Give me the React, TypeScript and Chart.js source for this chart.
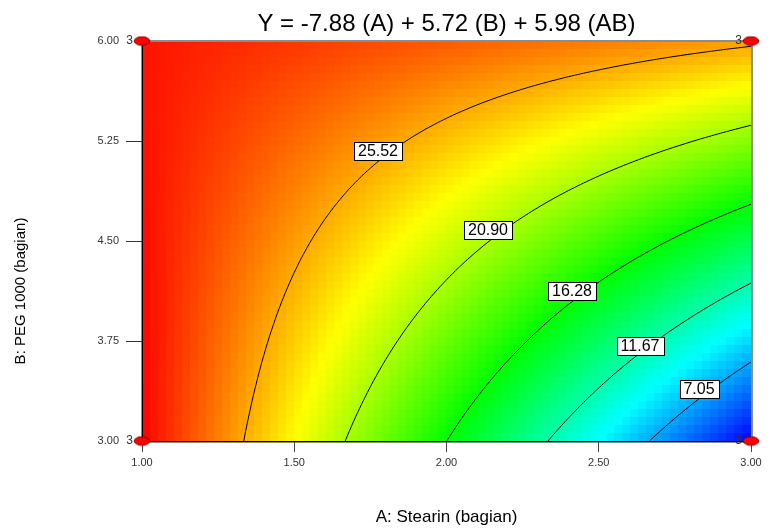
import React, { useEffect, useRef } from 'react';
import { Chart, registerables } from 'chart.js';

Chart.register(...registerables);

// ---------- text ----------
const TITLE = 'Y = -7.88 (A) + 5.72 (B) + 5.98 (AB)';
const X_TITLE = 'A: Stearin (bagian)';
const Y_TITLE = 'B: PEG 1000 (bagian)';

// ---------- fitted model (coded units): Y = b0 + bA*A + bB*B + bAB*A*B ----------
// coefficients from the title; the intercept read from the labelled contour levels
const MODEL_TERMS = ['intercept', 'A', 'B', 'AB'];
const MODEL_COEFS = [22.01, -7.88, 5.72, 5.98];

// ---------- factor ranges and ticks ----------
const A_RANGE = [1.0, 3.0];
const B_RANGE = [3.0, 6.0];
const X_TICKS = [1.0, 1.5, 2.0, 2.5, 3.0];
const Y_TICKS = [3.0, 3.75, 4.5, 5.25, 6.0];

// ---------- contour levels and where their labels sit ----------
const CONTOUR_LEVELS = [25.52, 20.9, 16.28, 11.67, 7.05];
const LABEL_A = [1.775, 2.136, 2.411, 2.637, 2.828];
const LABEL_B = [5.177, 4.579, 4.125, 3.716, 3.39];

// ---------- design points ----------
const DESIGN_A = [1.0, 3.0, 1.0, 3.0];
const DESIGN_B = [3.0, 3.0, 6.0, 6.0];
const DESIGN_REPS = [3, 3, 3, 3];

// ---------- colour ramp (low -> high) ----------
const RAMP = [
  [0, 0, 255],
  [0, 255, 255],
  [0, 255, 0],
  [255, 255, 0],
  [255, 0, 0],
];

const FONT = '"Liberation Sans", Arial, sans-serif';

const toCoded = (v: number, r: number[]) => (v - (r[0] + r[1]) / 2) / ((r[1] - r[0]) / 2);
const toActual = (c: number, r: number[]) => (r[0] + r[1]) / 2 + (c * (r[1] - r[0])) / 2;

function coef(term: string) {
  return MODEL_COEFS[MODEL_TERMS.indexOf(term)];
}
function model(a: number, b: number) {
  return coef('intercept') + coef('A') * a + coef('B') * b + coef('AB') * a * b;
}

function rampColor(f: number) {
  const t = Math.max(0, Math.min(1, f)) * (RAMP.length - 1);
  const i = Math.min(RAMP.length - 2, Math.floor(t));
  const u = t - i;
  const c0 = RAMP[i];
  const c1 = RAMP[i + 1];
  const r = Math.round(c0[0] + (c1[0] - c0[0]) * u);
  const g = Math.round(c0[1] + (c1[1] - c0[1]) * u);
  const b = Math.round(c0[2] + (c1[2] - c0[2]) * u);
  return `rgb(${r},${g},${b})`;
}

function contourPoints(level: number) {
  const b0 = coef('intercept');
  const bA = coef('A');
  const bB = coef('B');
  const bAB = coef('AB');
  const pts: { x: number; y: number }[] = [];
  const N = 200;
  for (let k = 0; k <= N; k++) {
    const a = -1 + (2 * k) / N;
    const den = bB + bAB * a;
    if (Math.abs(den) < 1e-9) continue;
    const b = (level - b0 - bA * a) / den;
    if (b >= -1 && b <= 1) pts.push({ x: toActual(a, A_RANGE), y: toActual(b, B_RANGE) });
  }
  for (const bb of [-1, 1]) {
    const den = bA + bAB * bb;
    if (Math.abs(den) < 1e-9) continue;
    const a = (level - b0 - bB * bb) / den;
    if (a >= -1 && a <= 1) pts.push({ x: toActual(a, A_RANGE), y: toActual(bb, B_RANGE) });
  }
  pts.sort((p, q) => p.x - q.x);
  return pts;
}

function makeMarker() {
  const c = document.createElement('canvas');
  c.width = 18;
  c.height = 11;
  const g = c.getContext('2d')!;
  g.beginPath();
  g.ellipse(9, 5.5, 7.8, 4.3, 0, 0, Math.PI * 2);
  g.fillStyle = '#ff0000';
  g.fill();
  g.lineWidth = 1;
  g.strokeStyle = '#8a0000';
  g.stroke();
  return c;
}

const heatmapPlugin = {
  id: 'heatmap',
  beforeDraw(chart: any) {
    const { ctx, chartArea: ca, scales } = chart;
    const xs = scales.x;
    const ys = scales.y;
    const corners = [model(-1, -1), model(1, -1), model(-1, 1), model(1, 1)];
    const vmin = Math.min(...corners);
    const vmax = Math.max(...corners);
    const nx = 76;
    const ny = 50;
    ctx.save();
    for (let i = 0; i < nx; i++) {
      const x0 = ca.left + (ca.width * i) / nx;
      const x1 = ca.left + (ca.width * (i + 1)) / nx;
      const a = toCoded(xs.getValueForPixel((x0 + x1) / 2), A_RANGE);
      for (let j = 0; j < ny; j++) {
        const y0 = ca.top + (ca.height * j) / ny;
        const y1 = ca.top + (ca.height * (j + 1)) / ny;
        const b = toCoded(ys.getValueForPixel((y0 + y1) / 2), B_RANGE);
        const v = model(a, b);
        ctx.fillStyle = rampColor((v - vmin) / (vmax - vmin));
        const fx = Math.floor(x0);
        const fy = Math.floor(y0);
        ctx.fillRect(fx, fy, Math.ceil(x1) - fx, Math.ceil(y1) - fy);
      }
    }
    // grey frame
    ctx.strokeStyle = '#8c8c8c';
    ctx.lineWidth = 2;
    ctx.strokeRect(ca.left, ca.top, ca.width + 1, ca.height + 1);
    ctx.restore();
  },
};

const annotatePlugin = {
  id: 'annotate',
  afterDatasetsDraw(chart: any) {
    const { ctx, chartArea: ca, scales } = chart;
    const xs = scales.x;
    const ys = scales.y;
    ctx.save();
    // contour labels
    ctx.font = `16px ${FONT}`;
    ctx.textAlign = 'center';
    ctx.textBaseline = 'middle';
    CONTOUR_LEVELS.forEach((lv, i) => {
      const px = Math.round(xs.getPixelForValue(LABEL_A[i]));
      const py = Math.round(ys.getPixelForValue(LABEL_B[i]));
      const txt = lv.toFixed(2);
      const w = Math.round(ctx.measureText(txt).width + 8);
      const h = 18;
      const lx = Math.round(px - w / 2) + 0.5;
      const ly = Math.round(py - h / 2) + 0.5;
      ctx.fillStyle = '#ffffff';
      ctx.fillRect(lx, ly, w, h);
      ctx.strokeStyle = '#000';
      ctx.lineWidth = 1;
      ctx.strokeRect(lx, ly, w, h);
      ctx.fillStyle = '#000';
      ctx.fillText(txt, px, py + 1);
    });
    // replicate counts at design points
    ctx.font = `12px ${FONT}`;
    ctx.textAlign = 'right';
    ctx.fillStyle = '#333';
    DESIGN_A.forEach((a, i) => {
      const px = xs.getPixelForValue(a);
      const py = ys.getPixelForValue(DESIGN_B[i]);
      ctx.fillText(String(DESIGN_REPS[i]), px - 9, py);
    });
    // y axis title
    ctx.translate(21, ca.top + ca.height * 0.625);
    ctx.rotate(-Math.PI / 2);
    ctx.textAlign = 'center';
    ctx.textBaseline = 'middle';
    ctx.fillStyle = '#000';
    ctx.font = `15px ${FONT}`;
    ctx.fillText(Y_TITLE, 0, 0);
    ctx.restore();
  },
};

export default function App() {
  const ref = useRef<HTMLCanvasElement | null>(null);

  useEffect(() => {
    document.body.style.margin = '0';
    document.body.style.overflow = 'hidden';
    const canvas = ref.current;
    if (!canvas) return;
    const marker = makeMarker();
    const lastY = Y_TICKS.length - 1;

    const chart = new Chart(canvas, {
      type: 'scatter',
      data: {
        datasets: [
          {
            label: 'Design points',
            data: DESIGN_A.map((a, i) => ({ x: a, y: DESIGN_B[i] })),
            pointStyle: marker as any,
            pointRadius: 6,
            clip: false as any,
            order: 0,
          },
          ...CONTOUR_LEVELS.map((lv, i) => ({
            type: 'line' as const,
            label: `Y = ${lv.toFixed(2)}`,
            data: contourPoints(lv),
            borderColor: '#000',
            borderWidth: 1,
            pointRadius: 0,
            fill: false,
            tension: 0,
            showLine: true,
            order: i + 1,
          })),
        ] as any,
      },
      options: {
        animation: false,
        responsive: false,
        maintainAspectRatio: false,
        events: [],
        layout: { padding: { left: 0, right: 20, top: 0, bottom: 0 } },
        plugins: {
          legend: { display: false },
          tooltip: { enabled: false },
          title: {
            display: true,
            text: TITLE,
            fullSize: false,
            color: '#000',
            font: { family: FONT, size: 24, weight: 'normal' as any, lineHeight: 1.2 },
            padding: { top: 10, bottom: 2.2 },
          },
        },
        scales: {
          x: {
            type: 'linear',
            min: A_RANGE[0],
            max: A_RANGE[1],
            afterBuildTicks: (s: any) => {
              s.ticks = X_TICKS.map((v) => ({ value: v }));
            },
            afterFit: (s: any) => {
              s.height = 88;
            },
            grid: { drawOnChartArea: false, drawTicks: true, tickLength: 11, tickColor: '#444' },
            border: { display: true, color: '#000', width: 1 },
            ticks: {
              color: '#333',
              padding: 4,
              maxRotation: 0,
              font: { family: FONT, size: 11 },
              callback: (v: any) => Number(v).toFixed(2),
            },
            title: {
              display: true,
              text: X_TITLE,
              color: '#000',
              font: { family: FONT, size: 17 },
              padding: { top: 0, bottom: 1 },
            },
          },
          y: {
            type: 'linear',
            min: B_RANGE[0],
            max: B_RANGE[1],
            afterBuildTicks: (s: any) => {
              s.ticks = Y_TICKS.map((v) => ({ value: v }));
            },
            afterFit: (s: any) => {
              s.width = 142;
            },
            grid: {
              drawOnChartArea: false,
              drawTicks: true,
              tickLength: 16,
              tickColor: (c: any) => (c.index === 0 || c.index === lastY ? 'rgba(0,0,0,0)' : '#333'),
            },
            border: { display: true, color: '#000', width: 1 },
            ticks: {
              color: '#333',
              padding: 7,
              font: { family: FONT, size: 11 },
              callback: (v: any) => Number(v).toFixed(2),
            },
            title: { display: false },
          },
        },
      } as any,
      plugins: [heatmapPlugin, annotatePlugin],
    });

    return () => chart.destroy();
  }, []);

  return (
    <div style={{ width: 771, height: 529 }}>
      <canvas ref={ref} width={771} height={529} style={{ display: 'block', width: 771, height: 529 }} />
    </div>
  );
}
